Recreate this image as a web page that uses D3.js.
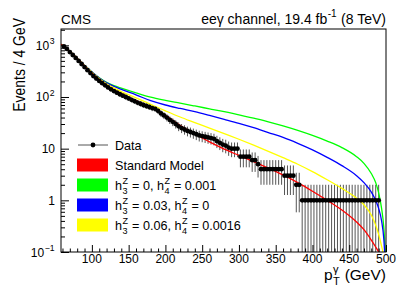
<!DOCTYPE html>
<html><head><meta charset="utf-8">
<script src="https://cdn.jsdelivr.net/npm/d3@7"></script>
<style>
html,body{margin:0;padding:0;background:#fff;}
text{font-family:"Liberation Sans",Arial,Helvetica,sans-serif;fill:#000;white-space:pre;}
</style></head><body>
<svg id="c" width="407" height="299"></svg>
<script>
// ---- data (Events / 4 GeV) ----
const binCenters = [62,66,70,74,78,82,86,90,94,98,102,106,110,114,118,122,126,130,134,138,142,146,150,154,158,162,166,170,174,178,182,186,190,194,198,202,206,210,214,218,222,226,230,234,238,242,246,250,254,258,262,266,270,274,278,282,286,290,294,298,302,306,310,314,318,322,326,330,334,338,342,346,350,354,358,362,366,370,374,378,382,386,390,394,398,402,406,410,414,418,422,426,430,434,438,442,446,450,454,458,462,466,470,474,478,482,486,490];
const dataValues = [950,850,740,650,570,500,435,380,330,290,255,228,205,185,168,153,141,130,121,113,106,100,94,88,83,78,74,70,67,64,61,59,54,48,44,40,36,33,30,27,25,23.5,22,21,20,19,18,17.5,17,16.5,16,15.5,14,13,12,11.5,10.5,10,10,10,7,7,7,7,6,6,5,4,4,4,4,4,4,4,4,3,3,3,3,2,2,1,1,1,1,1,1,1,1,1,1,1,1,1,1,1,1,1,1,1,1,1,1,1,1,1,1,1];
// ---- model curves ----
const curveX   = [58,70,80,90,100,110,120,130,140,160,180,200,220,240,260,280,300,320,340,360,380,400,420,440,460,470,480,486,490,494,497,500];
const smValues = [1050,770,560,400,290,215,168,138,117,85,64,44,28,19.5,13.5,9.8,7.4,5.6,4.2,3.1,2.2,1.5,1.0,0.65,0.38,0.27,0.17,0.125,0.1,0.075,0.05,0.03];
const h4Values = [1050,770,565,410,305,235,192,166,148,120,99,86,76,67,59,52,45,39,33,27.5,22.5,18,14,10.5,7,5.2,3.3,2.2,1.4,0.7,0.3,0.05];
const h3Values = [1050,770,565,410,305,233,188,160,140,110,85,70,60,52,44,37,31,25.5,20.5,16.5,12.7,9.5,6.8,4.7,3.0,2.2,1.45,1.0,0.7,0.4,0.18,0.03];
const h34Values= [1050,770,565,408,302,228,180,150,127,96,72,54,41,32,25,19.5,15.2,11.7,8.9,6.7,5.0,3.6,2.5,1.7,1.1,0.82,0.52,0.33,0.22,0.13,0.08,0.03];
// ---- ticks / labels ----
const xMajorTicks = [100,150,200,250,300,350,400,450,500];
const yMajorTicks = [0.1,1,10,100,1000];
const yTickLabels = [["10","\u22121"],["1",""],["10",""],["10","2"],["10","3"]];
const legendEntries = [
  {type:"data", parts:["Data"]},
  {type:"box", color:"#ff0000", parts:["Standard Model"]},
  {type:"box", color:"#00ff00", parts:["h",{sup:"Z",sub:"3"}," = 0, h",{sup:"Z",sub:"4"}," = 0.001"]},
  {type:"box", color:"#0000ff", parts:["h",{sup:"Z",sub:"3"}," = 0.03, h",{sup:"Z",sub:"4"}," = 0"]},
  {type:"box", color:"#ffff00", parts:["h",{sup:"Z",sub:"3"}," = 0.06, h",{sup:"Z",sub:"4"}," = 0.0016"]}
];

const svg = d3.select("#c");
const L=61, R=386, T=29, B=252;
const x = d3.scaleLinear().domain([58,500]).range([L,R]);
const y = d3.scaleLog().domain([0.1,2070]).range([B,T]);

function rich(parent, px, py, parts, fs, anchor) {
  const g = parent.append("g");
  let cx = 0;
  for (const p of parts) {
    if (typeof p === "string") {
      const t = g.append("text").attr("x", cx).attr("y", 0).style("font-size", fs+"px").text(p);
      cx += t.node().getComputedTextLength();
    } else {
      let w = 0;
      if (p.sup) { const t = g.append("text").attr("x", cx+0.5).attr("y", -fs*0.45).style("font-size", (fs*0.72)+"px").text(p.sup); w = Math.max(w, t.node().getComputedTextLength()); }
      if (p.sub) { const t = g.append("text").attr("x", cx+0.5).attr("y", fs*0.32).style("font-size", (fs*0.72)+"px").text(p.sub); w = Math.max(w, t.node().getComputedTextLength()); }
      cx += w + 1;
    }
  }
  const ox = anchor === "end" ? px - cx : anchor === "middle" ? px - cx/2 : px;
  g.attr("transform", `translate(${ox},${py})`);
  return g;
}

// clip
svg.append("clipPath").attr("id","clip").append("rect").attr("x",L).attr("y",T).attr("width",R-L).attr("height",B-T);
const plot = svg.append("g").attr("clip-path","url(#clip)");

// error bars
const pts = binCenters.map((c,i)=>({c, v:dataValues[i]}));
plot.append("g").selectAll("line").data(pts).join("line")
  .attr("x1", d=>x(d.c)).attr("x2", d=>x(d.c))
  .attr("y1", d=>y(Math.max(d.v-Math.sqrt(d.v), 0.05)))
  .attr("y2", d=>y(d.v+Math.sqrt(d.v)))
  .attr("stroke","#555").attr("stroke-width",1);
plot.append("g").selectAll("line").data(pts).join("line")
  .attr("x1", d=>x(d.c-2)).attr("x2", d=>x(d.c+2))
  .attr("y1", d=>y(d.v)).attr("y2", d=>y(d.v))
  .attr("stroke","#555").attr("stroke-width",1);

// curves
const line = d3.line().x(d=>x(d[0])).y(d=>y(d[1])).curve(d3.curveMonotoneX);
const curves = [[h4Values,"#00ff00"],[h3Values,"#0000ff"],[h34Values,"#ffff00"],[smValues,"#ff0000"]];
for (const [vals,col] of curves) {
  plot.append("path").datum(curveX.map((cx,i)=>[cx, vals[i]]))
    .attr("d", line).attr("fill","none").attr("stroke",col).attr("stroke-width",1.3);
}

// markers
plot.append("g").selectAll("circle").data(pts).join("circle")
  .attr("cx", d=>x(d.c)).attr("cy", d=>y(d.v)).attr("r",2.4).attr("fill","#000");

// axes ticks
svg.append("g").attr("transform",`translate(0,${B})`)
  .call(d3.axisBottom(x).tickValues(xMajorTicks).tickSize(-7).tickFormat(""));
const minorX = []; for (let v=60; v<500; v+=10) if (v%50) minorX.push(v);
svg.append("g").attr("transform",`translate(0,${B})`)
  .call(d3.axisBottom(x).tickValues(minorX).tickSize(-3.5).tickFormat(""));
svg.append("g").attr("transform",`translate(${L},0)`)
  .call(d3.axisLeft(y).tickValues(yMajorTicks).tickSize(-8).tickFormat(""));
const minorY = []; for (const dec of [0.1,1,10,100,1000]) for (let k=2;k<=9;k++){ const v=dec*k; if (v<2070) minorY.push(v);}
svg.append("g").attr("transform",`translate(${L},0)`)
  .call(d3.axisLeft(y).tickValues(minorY).tickSize(-4).tickFormat(""));
svg.selectAll(".domain").remove();
svg.selectAll(".tick line").attr("stroke","#000");

// frame
svg.append("rect").attr("x",L).attr("y",T).attr("width",R-L).attr("height",B-T)
  .attr("fill","none").attr("stroke","#000").attr("stroke-width",1);

// tick labels
svg.append("g").selectAll("text").data(xMajorTicks).join("text")
  .attr("x", d=>x(d)).attr("y", 263).attr("text-anchor","middle").style("font-size","12px").text(d=>d);
yMajorTicks.forEach((v,i)=>{
  const [b,s] = yTickLabels[i];
  const parts = s ? [b,{sup:s}] : [b];
  rich(svg, 55, y(v)+4.5, parts, 12, "end");
});

// titles
svg.append("text").attr("x",61).attr("y",23.5).style("font-size","13.5px").text("CMS");
rich(svg, 386, 23.5, ["ee\u03b3 channel, 19.4 fb",{sup:"-1"}," (8 TeV)"], 14, "end");
svg.append("text").attr("transform","translate(24.5,18) rotate(-90) scale(0.82,1)").attr("text-anchor","end")
  .style("font-size","17px").text("Events / 4 GeV");
rich(svg, 386, 280, ["p",{sup:"\u03b3",sub:"T"}," (GeV)"], 15.5, "end");

// legend
legendEntries.forEach((e,i)=>{
  const cy = 145 + i*20;
  if (e.type==="data") {
    svg.append("line").attr("x1",78).attr("x2",108).attr("y1",cy).attr("y2",cy).attr("stroke","#555").attr("stroke-width",1);
    svg.append("circle").attr("cx",93).attr("cy",cy).attr("r",2.4).attr("fill","#000");
  } else {
    svg.append("rect").attr("x",77).attr("y",cy-6.5).attr("width",31).attr("height",13).attr("fill",e.color);
  }
  rich(svg, 115, cy+4.5, e.parts, 12.6, "start");
});
</script>
</body></html>
